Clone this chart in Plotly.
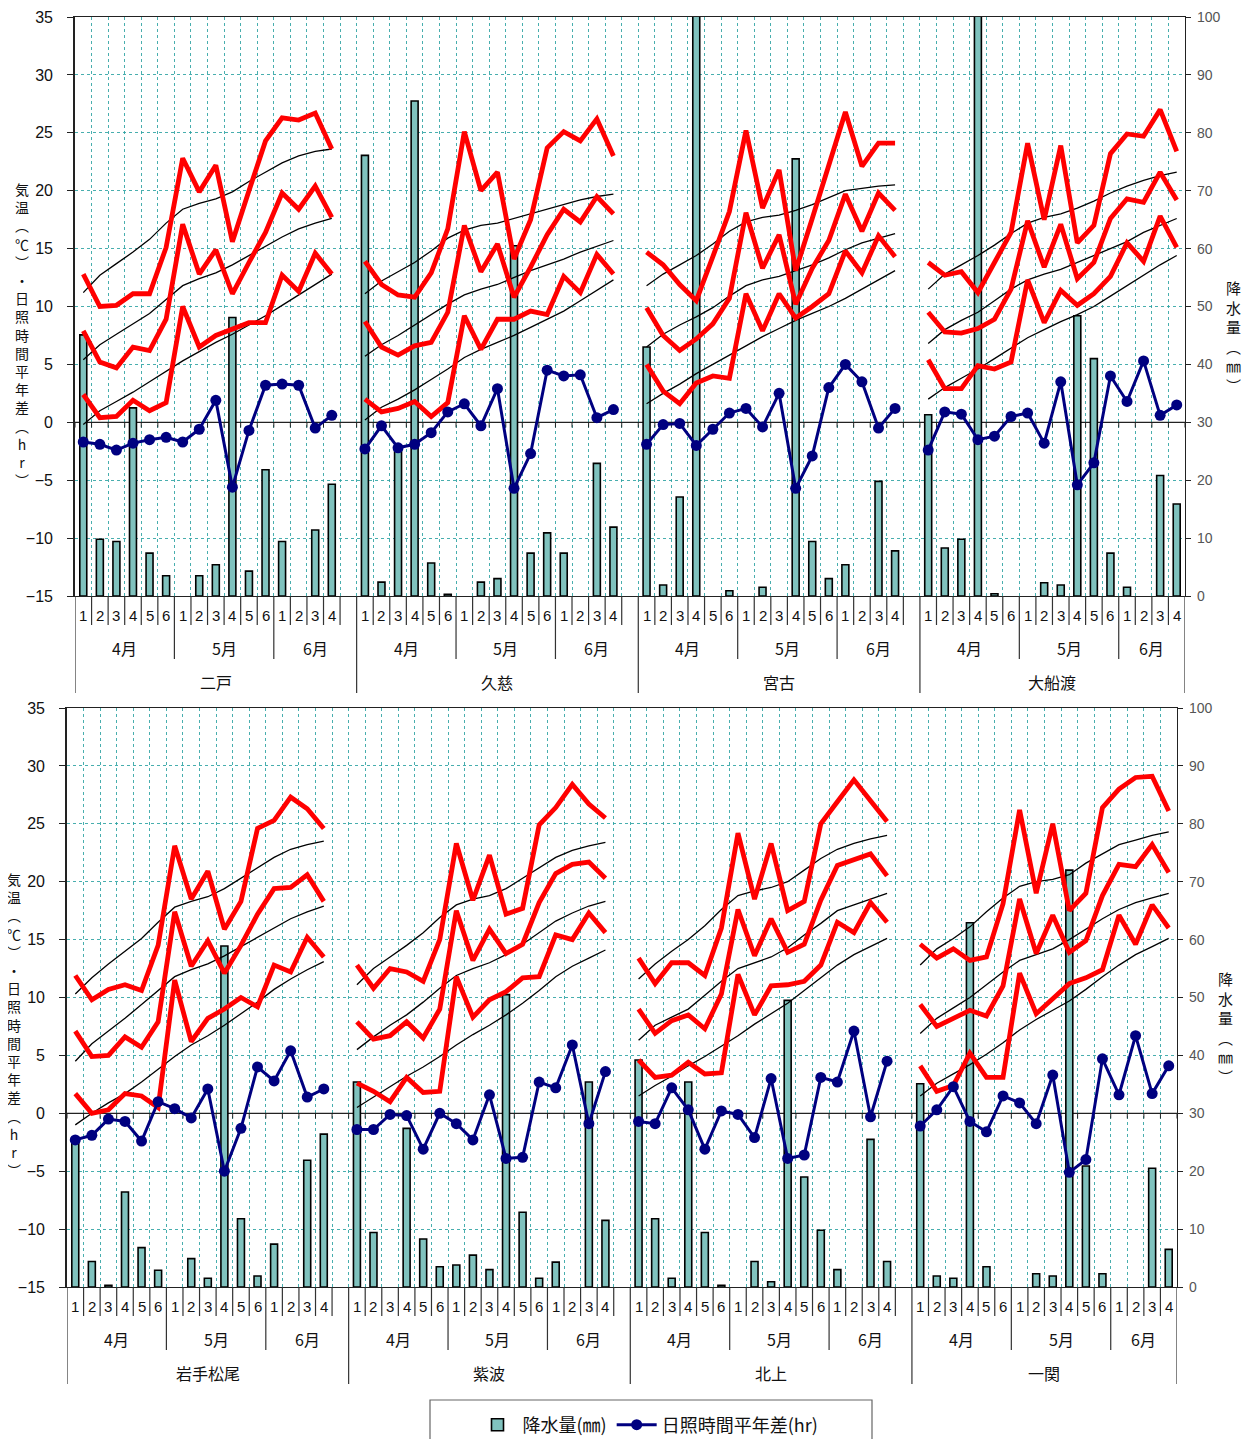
import plotly.graph_objects as go

# ---------------- data ----------------
PERIOD_LABELS = ["1", "2", "3", "4", "5", "6", "1", "2", "3", "4", "5", "6", "1", "2", "3", "4"]
MONTH_LABELS = ["4月", "5月", "6月"]
STATIONS_TOP = ["二戸", "久慈", "宮古", "大船渡"]
STATIONS_BOTTOM = ["岩手松尾", "紫波", "北上", "一関"]

# 二戸
NINOHE_TMAX = [12.8, 10.0, 10.1, 11.1, 11.1, 15.1, 22.8, 19.9, 22.2, 15.6, 20.0, 24.3, 26.3, 26.1, 26.7, 23.6]
NINOHE_TAVG = [7.9, 5.2, 4.7, 6.5, 6.2, 8.9, 17.1, 12.8, 14.9, 11.1, 13.8, 16.4, 19.8, 18.4, 20.4, 17.7]
NINOHE_TMIN = [2.4, 0.4, 0.5, 1.9, 1.0, 1.7, 10.0, 6.5, 7.5, 8.1, 8.6, 8.6, 12.7, 11.3, 14.6, 12.8]
NINOHE_NMAX = [11.2, 12.7, 13.7, 14.7, 15.8, 17.2, 18.4, 18.9, 19.3, 19.9, 20.8, 21.6, 22.4, 23.0, 23.4, 23.6]
NINOHE_NAVG = [5.4, 6.7, 7.6, 8.5, 9.4, 10.6, 11.8, 12.4, 12.9, 13.6, 14.4, 15.2, 16.0, 16.7, 17.2, 17.6]
NINOHE_NMIN = [-0.2, 1.0, 1.8, 2.6, 3.5, 4.4, 5.3, 6.1, 6.9, 7.6, 8.4, 9.2, 10.1, 11.0, 11.9, 12.8]
NINOHE_SUN = [-1.7, -1.9, -2.4, -1.8, -1.5, -1.3, -1.7, -0.6, 1.9, -5.6, -0.7, 3.2, 3.3, 3.2, -0.5, 0.6]
NINOHE_PREC = [45.1, 9.8, 9.4, 32.5, 7.4, 3.5, 0, 3.5, 5.4, 48.1, 4.3, 21.8, 9.4, 0, 11.4, 19.3]

# 久慈
KUJI_TMAX = [13.9, 11.9, 11.0, 10.8, 12.9, 16.7, 25.1, 20.0, 21.6, 14.1, 17.5, 23.7, 25.1, 24.3, 26.2, 23.0]
KUJI_TAVG = [8.7, 6.5, 5.8, 6.6, 6.9, 9.5, 17.0, 13.0, 15.4, 10.8, 13.4, 16.2, 18.4, 17.3, 19.5, 18.0]
KUJI_TMIN = [2.0, 0.9, 1.2, 1.8, 0.5, 1.7, 9.2, 6.3, 8.9, 8.9, 9.6, 9.3, 12.6, 11.2, 14.5, 12.8]
KUJI_NMAX = [11.1, 12.2, 13.0, 13.8, 14.8, 15.9, 16.6, 17.0, 17.2, 17.6, 18.0, 18.4, 18.8, 19.2, 19.5, 19.7]
KUJI_NAVG = [5.7, 6.7, 7.5, 8.4, 9.3, 10.2, 11.0, 11.5, 11.9, 12.5, 13.1, 13.6, 14.1, 14.7, 15.2, 15.7]
KUJI_NMIN = [0.2, 1.3, 2.0, 2.8, 3.7, 4.6, 5.6, 6.3, 6.9, 7.5, 8.2, 8.9, 9.6, 10.5, 11.4, 12.3]
KUJI_SUN = [-2.3, -0.3, -2.2, -1.9, -0.9, 0.9, 1.6, -0.3, 2.9, -5.7, -2.7, 4.5, 4.0, 4.1, 0.4, 1.1]
KUJI_PREC = [76.1, 2.4, 25.1, 85.5, 5.7, 0.3, 0, 2.4, 3.0, 60.5, 7.4, 10.9, 7.4, 0, 22.9, 11.9]

# 宮古
MIYAKO_TMAX = [14.7, 13.6, 11.9, 10.5, 14.3, 18.2, 25.2, 18.5, 21.8, 13.1, 17.6, 22.2, 26.8, 22.1, 24.1, 24.1]
MIYAKO_TAVG = [9.9, 7.5, 6.2, 7.2, 8.5, 10.7, 18.1, 13.3, 16.2, 10.2, 13.3, 15.7, 19.7, 16.5, 19.8, 18.3]
MIYAKO_TMIN = [5.0, 2.7, 1.6, 3.4, 4.0, 3.8, 11.1, 7.9, 11.1, 9.0, 10.0, 11.1, 14.8, 12.9, 16.1, 14.3]
MIYAKO_NMAX = [11.8, 12.8, 13.6, 14.4, 15.4, 16.5, 17.3, 17.7, 17.9, 18.3, 18.8, 19.4, 20.0, 20.2, 20.4, 20.5]
MIYAKO_NAVG = [6.5, 7.6, 8.4, 9.1, 9.9, 10.9, 11.8, 12.3, 12.6, 13.1, 13.6, 14.2, 14.9, 15.5, 15.9, 16.3]
MIYAKO_NMIN = [1.6, 2.5, 3.3, 4.2, 5.0, 5.8, 6.6, 7.4, 8.1, 8.8, 9.4, 10.0, 10.7, 11.5, 12.3, 13.1]
MIYAKO_SUN = [-1.9, -0.2, -0.1, -2.0, -0.6, 0.8, 1.2, -0.4, 2.5, -5.7, -2.9, 3.0, 5.0, 3.5, -0.5, 1.2]
MIYAKO_PREC = [43.0, 1.9, 17.1, 115.0, 0, 0.9, 0, 1.5, 0, 75.5, 9.4, 3.0, 5.4, 0, 19.8, 7.8]

# 大船渡
OFUNATO_TMAX = [13.8, 12.7, 13.0, 11.2, 13.8, 16.4, 24.1, 17.5, 23.9, 15.5, 17.0, 23.2, 24.9, 24.7, 27.0, 23.4]
OFUNATO_TAVG = [9.5, 7.8, 7.7, 8.1, 8.9, 11.5, 17.4, 13.4, 17.1, 12.4, 13.8, 17.6, 19.3, 19.0, 21.6, 19.2]
OFUNATO_TMIN = [5.4, 2.9, 2.9, 4.9, 4.6, 5.2, 12.3, 8.6, 11.4, 10.1, 11.1, 12.6, 15.5, 13.9, 17.8, 15.1]
OFUNATO_NMAX = [11.5, 12.8, 13.6, 14.4, 15.3, 16.3, 17.2, 17.7, 18.0, 18.5, 19.1, 19.8, 20.4, 20.9, 21.3, 21.6]
OFUNATO_NAVG = [6.8, 8.0, 8.8, 9.5, 10.5, 11.5, 12.3, 12.8, 13.2, 13.8, 14.4, 15.0, 15.6, 16.4, 17.0, 17.6]
OFUNATO_NMIN = [2.0, 3.0, 3.8, 4.6, 5.5, 6.4, 7.3, 8.0, 8.7, 9.3, 10.0, 10.9, 11.8, 12.7, 13.6, 14.4]
OFUNATO_SUN = [-2.4, 0.9, 0.7, -1.5, -1.2, 0.5, 0.8, -1.8, 3.5, -5.4, -3.5, 4.0, 1.8, 5.3, 0.6, 1.5]
OFUNATO_PREC = [31.3, 8.3, 9.8, 112.0, 0.4, 0, 0, 2.3, 1.9, 48.4, 41.0, 7.4, 1.5, 0, 20.8, 15.9]

# 岩手松尾
MATSUO_TMAX = [11.9, 9.8, 10.7, 11.1, 10.6, 14.5, 23.1, 18.5, 20.9, 15.9, 18.3, 24.6, 25.3, 27.3, 26.3, 24.6]
MATSUO_TAVG = [7.1, 4.9, 5.0, 6.6, 5.7, 7.9, 17.4, 12.7, 14.9, 12.1, 14.5, 17.2, 19.4, 19.5, 20.6, 18.3]
MATSUO_TMIN = [1.7, 0.0, 0.3, 1.7, 1.5, 0.5, 11.5, 6.2, 8.2, 9.0, 10.0, 9.2, 12.8, 12.2, 15.2, 13.5]
MATSUO_NMAX = [10.3, 11.7, 12.9, 14.0, 15.1, 16.5, 17.8, 18.3, 18.7, 19.4, 20.3, 21.2, 22.1, 22.8, 23.2, 23.5]
MATSUO_NAVG = [4.5, 6.0, 7.1, 8.2, 9.4, 10.6, 11.8, 12.4, 12.9, 13.6, 14.4, 15.2, 16.0, 16.8, 17.4, 17.9]
MATSUO_NMIN = [-1.0, 0.0, 0.9, 1.7, 2.7, 3.8, 4.9, 5.9, 6.7, 7.6, 8.6, 9.6, 10.7, 11.6, 12.4, 13.1]
MATSUO_SUN = [-2.3, -1.9, -0.5, -0.7, -2.4, 1.0, 0.4, -0.4, 2.1, -5.0, -1.3, 4.0, 2.8, 5.4, 1.4, 2.1]
MATSUO_PREC = [25.2, 4.4, 0.3, 16.4, 6.8, 2.9, 0, 4.9, 1.5, 58.9, 11.8, 1.9, 7.4, 0, 21.9, 26.4]

# 紫波
SHIWA_TMAX = [12.8, 10.8, 12.5, 12.2, 11.4, 15.0, 23.3, 18.4, 22.3, 17.2, 17.7, 24.9, 26.4, 28.4, 26.7, 25.5]
SHIWA_TAVG = [7.9, 6.4, 6.7, 7.9, 6.5, 9.0, 17.5, 13.2, 15.9, 13.8, 14.6, 18.2, 20.7, 21.5, 21.7, 20.3]
SHIWA_TMIN = [2.6, 1.9, 1.0, 3.1, 1.8, 1.9, 11.8, 8.3, 9.8, 10.5, 11.7, 11.8, 15.4, 15.0, 17.3, 15.6]
SHIWA_NMAX = [11.1, 12.5, 13.5, 14.5, 15.6, 16.9, 18.0, 18.5, 18.8, 19.4, 20.3, 21.2, 22.1, 22.7, 23.1, 23.4]
SHIWA_NAVG = [5.5, 6.6, 7.6, 8.5, 9.6, 10.8, 11.9, 12.5, 13.0, 13.7, 14.6, 15.6, 16.6, 17.3, 17.9, 18.3]
SHIWA_NMIN = [0.5, 1.4, 2.3, 3.2, 4.0, 4.9, 5.9, 6.8, 7.6, 8.5, 9.5, 10.6, 11.8, 12.7, 13.4, 14.1]
SHIWA_SUN = [-1.4, -1.4, -0.1, -0.2, -3.1, 0.0, -0.9, -2.3, 1.6, -3.9, -3.8, 2.7, 2.2, 5.9, -0.9, 3.6]
SHIWA_PREC = [35.4, 9.4, 0, 27.4, 8.3, 3.5, 3.8, 5.5, 3.0, 50.5, 12.9, 1.5, 4.3, 0, 35.4, 11.5]

# 北上
KITAKAMI_TMAX = [13.4, 11.2, 13.0, 13.0, 11.9, 16.0, 24.2, 18.5, 23.3, 17.5, 18.3, 25.0, 26.9, 28.8, 27.0, 25.2]
KITAKAMI_TAVG = [9.0, 6.9, 8.0, 8.5, 7.3, 10.3, 17.6, 13.6, 16.8, 13.9, 14.6, 18.4, 21.4, 21.9, 22.4, 20.5]
KITAKAMI_TMIN = [4.6, 3.1, 3.3, 4.4, 3.4, 3.5, 12.0, 8.5, 11.0, 11.1, 11.4, 12.8, 16.5, 15.6, 18.2, 16.5]
KITAKAMI_NMAX = [11.6, 12.9, 14.0, 15.0, 16.2, 17.6, 18.8, 19.2, 19.5, 20.0, 21.0, 22.0, 22.8, 23.3, 23.7, 24.0]
KITAKAMI_NAVG = [6.3, 7.6, 8.3, 9.0, 10.2, 11.4, 12.5, 13.0, 13.5, 14.3, 15.4, 16.4, 17.5, 18.0, 18.5, 19.0]
KITAKAMI_NMIN = [1.5, 2.4, 3.2, 4.1, 4.9, 5.8, 6.7, 7.7, 8.6, 9.5, 10.6, 11.7, 12.8, 13.7, 14.4, 15.1]
KITAKAMI_SUN = [-0.7, -0.9, 2.2, 0.3, -3.1, 0.2, -0.1, -2.1, 3.0, -3.9, -3.6, 3.1, 2.7, 7.1, -0.3, 4.5]
KITAKAMI_PREC = [39.2, 11.8, 1.5, 35.4, 9.4, 0.3, 0, 4.4, 0.9, 49.5, 19.0, 9.8, 3.0, 0, 25.5, 4.4]

# 一関
ICHINOSEKI_TMAX = [14.6, 13.4, 14.2, 13.2, 13.5, 18.1, 26.2, 19.0, 25.0, 17.5, 19.0, 26.4, 28.0, 29.0, 29.1, 26.1]
ICHINOSEKI_TAVG = [9.4, 7.5, 8.2, 8.9, 8.4, 11.0, 18.5, 13.8, 17.1, 13.9, 14.9, 18.8, 21.5, 21.3, 23.2, 20.8]
ICHINOSEKI_TMIN = [4.1, 1.9, 2.4, 5.2, 3.1, 3.1, 12.1, 8.6, 9.9, 11.2, 11.7, 12.4, 17.1, 14.6, 18.0, 16.0]
ICHINOSEKI_NMAX = [12.8, 14.2, 15.1, 16.1, 17.4, 18.6, 19.6, 20.0, 20.2, 20.6, 21.6, 22.4, 23.2, 23.6, 24.0, 24.3]
ICHINOSEKI_NAVG = [6.9, 8.2, 9.1, 10.0, 11.1, 12.2, 13.2, 13.7, 14.2, 15.0, 15.9, 16.8, 17.6, 18.2, 18.6, 19.0]
ICHINOSEKI_NMIN = [1.5, 2.6, 3.4, 4.2, 5.1, 6.1, 7.2, 8.1, 8.9, 9.7, 10.7, 11.8, 12.8, 13.7, 14.4, 15.1]
ICHINOSEKI_SUN = [-1.1, 0.3, 2.3, -0.7, -1.6, 1.5, 0.9, -0.9, 3.3, -5.1, -4.0, 4.7, 1.6, 6.7, 1.7, 4.1]
ICHINOSEKI_PREC = [35.1, 1.9, 1.5, 62.9, 3.5, 0, 0, 2.3, 1.9, 72.0, 20.9, 2.3, 0, 0, 20.5, 6.5]

# table built from the lists above
DATA = {
    "二戸": (NINOHE_TMAX, NINOHE_TAVG, NINOHE_TMIN, NINOHE_NMAX, NINOHE_NAVG, NINOHE_NMIN, NINOHE_SUN, NINOHE_PREC),
    "久慈": (KUJI_TMAX, KUJI_TAVG, KUJI_TMIN, KUJI_NMAX, KUJI_NAVG, KUJI_NMIN, KUJI_SUN, KUJI_PREC),
    "宮古": (MIYAKO_TMAX, MIYAKO_TAVG, MIYAKO_TMIN, MIYAKO_NMAX, MIYAKO_NAVG, MIYAKO_NMIN, MIYAKO_SUN, MIYAKO_PREC),
    "大船渡": (OFUNATO_TMAX, OFUNATO_TAVG, OFUNATO_TMIN, OFUNATO_NMAX, OFUNATO_NAVG, OFUNATO_NMIN, OFUNATO_SUN, OFUNATO_PREC),
    "岩手松尾": (MATSUO_TMAX, MATSUO_TAVG, MATSUO_TMIN, MATSUO_NMAX, MATSUO_NAVG, MATSUO_NMIN, MATSUO_SUN, MATSUO_PREC),
    "紫波": (SHIWA_TMAX, SHIWA_TAVG, SHIWA_TMIN, SHIWA_NMAX, SHIWA_NAVG, SHIWA_NMIN, SHIWA_SUN, SHIWA_PREC),
    "北上": (KITAKAMI_TMAX, KITAKAMI_TAVG, KITAKAMI_TMIN, KITAKAMI_NMAX, KITAKAMI_NAVG, KITAKAMI_NMIN, KITAKAMI_SUN, KITAKAMI_PREC),
    "一関": (ICHINOSEKI_TMAX, ICHINOSEKI_TAVG, ICHINOSEKI_TMIN, ICHINOSEKI_NMAX, ICHINOSEKI_NAVG, ICHINOSEKI_NMIN, ICHINOSEKI_SUN, ICHINOSEKI_PREC),
}

# ---------------- layout constants ----------------
PAGE_W, PAGE_H = 1250, 1447
BODY = 8                       # default page margin around the figure
W, H = PAGE_W - 2 * BODY, PAGE_H - 2 * BODY
NPER = len(PERIOD_LABELS)      # 16 periods per station
SLOT = NPER + 1                # one empty slot between stations
NCAT = 4 * SLOT - 1            # 67 categories
T_RANGE = (-15, 35)            # left axis (temperature / sunshine)
P_RANGE = (0, 100)             # right axis (precipitation)

GRID = "rgba(40,160,160,0.85)"
RED = "#FF0000"
NAVY = "#000080"
BARFILL = "#80C2BE"
JP = "Noto Sans CJK JP, Noto Sans, sans-serif"
NUM = "Liberation Sans, Arial, sans-serif"


def fx(p):
    """page pixel -> paper fraction"""
    return (p - BODY) / W


def fy(p):
    return 1 - (p - BODY) / H


def t_to_p(t):
    """temperature-axis value expressed on the precipitation axis"""
    return P_RANGE[0] + (t - T_RANGE[0]) * (P_RANGE[1] - P_RANGE[0]) / (T_RANGE[1] - T_RANGE[0])


PANELS = [
    dict(stations=STATIONS_TOP, left=75, right=1185, top=17, bottom=596,
         xa="x", yb="y", yt="y2", lx="xaxis", lb="yaxis", lt="yaxis2"),
    dict(stations=STATIONS_BOTTOM, left=67, right=1177, top=708, bottom=1287,
         xa="x2", yb="y3", yt="y4", lx="xaxis2", lb="yaxis3", lt="yaxis4"),
]


def spread(stations, k, zero_as_gap=False):
    xs, ys = [], []
    for i, st in enumerate(stations):
        vals = DATA[st][k]
        for j, v in enumerate(vals):
            xs.append(i * SLOT + j)
            ys.append(None if (zero_as_gap and v == 0) else v)
        if i < len(stations) - 1:
            xs.append(i * SLOT + NPER)
            ys.append(None)
    return xs, ys


fig = go.Figure()
shapes = []
annotations = []
layout_axes = {}

LEFT_TITLE = "<br>".join(["気", "温", "︵", "℃", "︶", "・", "日", "照", "時", "間", "平", "年", "差", "︵", "h", "r", "︶"])
RIGHT_TITLE = "<br>".join(["降", "水", "量", "︵", "㎜", "︶"])

for pi, P in enumerate(PANELS):
    st = P["stations"]
    first = pi == 0
    # precipitation bars (right axis)
    xs, ys = spread(st, 7, zero_as_gap=True)
    fig.add_trace(go.Bar(x=xs, y=ys, name="降水量(㎜)", width=0.42,
                         marker=dict(color=BARFILL, line=dict(color="#000000", width=1.6)),
                         xaxis=P["xa"], yaxis=P["yb"], showlegend=first, legendrank=1))
    # normals (thin black)
    for k in (3, 4, 5):
        xs, ys = spread(st, k)
        fig.add_trace(go.Scatter(x=xs, y=ys, mode="lines", line=dict(color="#000000", width=1.3),
                                 xaxis=P["xa"], yaxis=P["yt"], showlegend=False, connectgaps=False))
    # observed temps (thick red)
    for k in (0, 1, 2):
        xs, ys = spread(st, k)
        fig.add_trace(go.Scatter(x=xs, y=ys, mode="lines", line=dict(color=RED, width=4.8),
                                 xaxis=P["xa"], yaxis=P["yt"], showlegend=False, connectgaps=False))
    # sunshine anomaly
    xs, ys = spread(st, 6)
    fig.add_trace(go.Scatter(x=xs, y=ys, mode="lines+markers", name="日照時間平年差(hr)",
                             line=dict(color=NAVY, width=3), marker=dict(color=NAVY, size=11),
                             xaxis=P["xa"], yaxis=P["yt"], showlegend=first, connectgaps=False,
                             legendrank=2))

    dom_x = [fx(P["left"]), fx(P["right"])]
    dom_y = [fy(P["bottom"]), fy(P["top"])]
    layout_axes[P["lx"]] = dict(
        domain=dom_x, anchor=P["yb"], range=[-0.5, NCAT - 0.5], tickmode="linear", tick0=-0.5, dtick=1,
        showticklabels=False, ticks="", showgrid=True, gridcolor=GRID, griddash="dot", gridwidth=1,
        showline=True, mirror=True, linecolor="#222222", linewidth=1.3, zeroline=False, fixedrange=True,
        automargin=False)
    layout_axes[P["lb"]] = dict(
        domain=dom_y, anchor=P["xa"], side="right", range=list(P_RANGE), tickmode="linear", tick0=0, dtick=10,
        ticks="outside", ticklen=5, tickcolor="#222222", showline=True, linecolor="#222222", linewidth=1.3,
        showgrid=True, gridcolor=GRID, griddash="dot", gridwidth=1, zeroline=False,
        tickfont=dict(family=NUM, size=14, color="#555555"), ticklabelstandoff=3, fixedrange=True,
        automargin=False)
    layout_axes[P["lt"]] = dict(
        overlaying=P["yb"], anchor=P["xa"], side="left", range=list(T_RANGE), tickmode="linear", tick0=-15,
        dtick=5, ticks="outside", ticklen=6, tickcolor="#222222", showline=True, linecolor="#222222",
        linewidth=1.6, showgrid=False, zeroline=False, tickfont=dict(family=NUM, size=16, color="#111111"),
        ticklabelstandoff=11, fixedrange=True, automargin=False)

    # temperature zero line with small tick marks (drawn on the base axis)
    z = t_to_p(0)
    zt = t_to_p(-0.45)
    shapes.append(dict(type="line", xref=P["xa"], yref=P["yb"], x0=-0.5, x1=NCAT - 0.5, y0=z, y1=z,
                       line=dict(color="#222222", width=1.3), layer="between"))
    for b in range(NCAT + 1):
        xb = b - 0.5
        shapes.append(dict(type="line", xref=P["xa"], yref=P["yb"], x0=xb, x1=xb, y0=z, y1=zt,
                           line=dict(color="#222222", width=1), layer="between"))

    # multi-level category axis separators
    bot = P["bottom"]
    for b in range(NCAT + 1):
        xb = b - 0.5
        within = b % SLOT
        if b == 0 or b == NCAT or within == 0:
            L = 97
        elif within in (6, 12):
            L = 63
        else:
            L = 29
        shapes.append(dict(type="line", xref=P["xa"], yref="paper", x0=xb, x1=xb,
                           y0=fy(bot), y1=fy(bot + L), line=dict(color="#333333", width=1.2)))

    # labels
    for i, name in enumerate(st):
        base = i * SLOT
        for j, lab in enumerate(PERIOD_LABELS):
            annotations.append(dict(x=base + j, y=fy(bot + 19), xref=P["xa"], yref="paper", text=lab,
                                    showarrow=False, font=dict(family=NUM, size=15, color="#111111"),
                                    xanchor="center", yanchor="middle"))
        last = (i == len(st) - 1)
        end6 = base + (NPER - 1 if last else NPER)
        month_centers = [base + 2.5, base + 8.5, (base + 12 + end6) / 2]
        for mc, ml in zip(month_centers, MONTH_LABELS):
            annotations.append(dict(x=mc, y=fy(bot + 52), xref=P["xa"], yref="paper", text=ml,
                                    showarrow=False, font=dict(family=JP, size=16, color="#111111"),
                                    xanchor="center", yanchor="middle"))
        annotations.append(dict(x=(base + end6) / 2, y=fy(bot + 86), xref=P["xa"], yref="paper", text=name,
                                showarrow=False, font=dict(family=JP, size=16, color="#111111"),
                                xanchor="center", yanchor="middle"))

    # vertical axis titles (one character per line)
    off = P["top"] - 17
    annotations.append(dict(x=fx(P["left"] - 53), y=fy(334 + off), xref="paper", yref="paper", text=LEFT_TITLE,
                            showarrow=False, font=dict(family=JP, size=14, color="#111111"),
                            xanchor="center", yanchor="middle", align="center"))
    annotations.append(dict(x=fx(P["right"] + 48), y=fy(336 + off), xref="paper", yref="paper", text=RIGHT_TITLE,
                            showarrow=False, font=dict(family=JP, size=15, color="#111111"),
                            xanchor="center", yanchor="middle", align="center"))

# legend frame
shapes.append(dict(type="rect", xref="paper", yref="paper", x0=fx(430), x1=fx(872), y0=fy(1470), y1=fy(1400),
                   line=dict(color="#666666", width=1.2), fillcolor="rgba(0,0,0,0)"))

fig.update_layout(
    width=W, height=H, margin=dict(l=0, r=0, t=0, b=0, autoexpand=False),
    paper_bgcolor="white", plot_bgcolor="white", barmode="overlay",
    showlegend=True,
    legend=dict(orientation="h", x=fx(648), xanchor="center", y=fy(1425), yanchor="middle",
                font=dict(family=JP, size=18, color="#111111"), bgcolor="rgba(0,0,0,0)",
                borderwidth=0, itemwidth=40, traceorder="normal"),
    shapes=shapes, annotations=annotations,
    **layout_axes,
)

fig.write_html("out.html", config={"displayModeBar": False})
